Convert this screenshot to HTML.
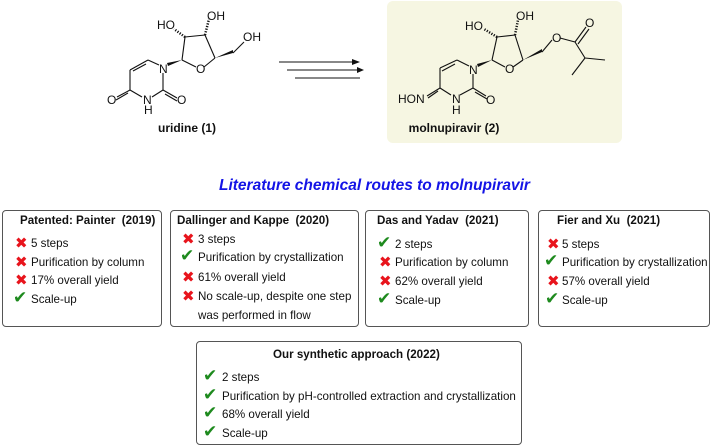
<!DOCTYPE html>
<html><head><meta charset="utf-8"><style>
body{margin:0;width:714px;height:447px;background:#fff;position:relative;overflow:hidden;font-family:"Liberation Sans",sans-serif;color:#111}
.a{position:absolute;white-space:nowrap}
.box{position:absolute;border:1.3px solid #555;border-radius:4px;box-sizing:border-box}
.t{font-weight:bold;font-size:11.6px}
.r{font-size:11.6px}
.x{color:#e8141c;font-family:"DejaVu Sans",sans-serif;font-size:15px;font-weight:bold}
.c{color:#1e8a1e;font-family:"DejaVu Sans",sans-serif;font-size:17px;font-weight:bold}
</style></head><body>
<div class="a" style="left:387px;top:1px;width:235px;height:142px;background:#f6f6e2;border-radius:6px"></div>
<svg class="a" style="left:0;top:0" width="714" height="170" font-family="Liberation Sans" font-size="12" fill="#111">
<g stroke="#111" stroke-width="1.1" fill="none">
<line x1="159" y1="65" x2="148" y2="60"/><line x1="148" y1="60" x2="130" y2="70"/><line x1="146" y1="64" x2="133" y2="71"/>
<line x1="130" y1="70" x2="130" y2="90"/><line x1="130" y1="90" x2="142" y2="97"/><line x1="152" y1="97" x2="163" y2="90"/>
<line x1="163" y1="90" x2="163" y2="73"/><line x1="163" y1="90" x2="177" y2="98"/><line x1="165" y1="94" x2="177" y2="101"/>
<line x1="130" y1="90" x2="117" y2="97"/><line x1="128" y1="93" x2="116" y2="100"/>
<line x1="182" y1="60" x2="196" y2="67"/><line x1="204" y1="67" x2="215" y2="58"/><line x1="215" y1="58" x2="205" y2="35"/><line x1="205" y1="35" x2="185" y2="37"/><line x1="185" y1="37" x2="182" y2="60"/>
<line x1="233" y1="53" x2="244" y2="42"/>
<line x1="205" y1="35" x2="209" y2="19" stroke-dasharray="1.2 1.5" stroke-width="2.5"/>
<line x1="185" y1="37" x2="174" y2="29" stroke-dasharray="1.2 1.5" stroke-width="2.5"/>
<line x1="279" y1="62" x2="352" y2="62"/><line x1="287" y1="70" x2="357" y2="70"/><line x1="295" y1="78" x2="360" y2="78"/>
<line x1="469" y1="66" x2="457" y2="60"/><line x1="457" y1="60" x2="440" y2="68"/><line x1="455" y1="64" x2="442" y2="71"/>
<line x1="440" y1="68" x2="440" y2="88"/><line x1="440" y1="88" x2="451" y2="95"/><line x1="460" y1="95" x2="473" y2="88"/>
<line x1="473" y1="88" x2="473" y2="74"/><line x1="473" y1="88" x2="486" y2="96"/><line x1="475" y1="92" x2="487" y2="99"/>
<line x1="440" y1="88" x2="427" y2="96"/><line x1="438" y1="91" x2="428" y2="98"/>
<line x1="492" y1="60" x2="505" y2="67"/><line x1="513" y1="67" x2="523" y2="60"/><line x1="523" y1="60" x2="515" y2="35"/><line x1="515" y1="35" x2="497" y2="37"/><line x1="497" y1="37" x2="492" y2="60"/>
<line x1="542" y1="52" x2="552" y2="40"/><line x1="560" y1="38" x2="575" y2="42"/>
<line x1="575" y1="42" x2="586" y2="27"/><line x1="578" y1="44" x2="589" y2="29"/>
<line x1="575" y1="42" x2="585" y2="58"/><line x1="585" y1="58" x2="605" y2="60"/><line x1="585" y1="58" x2="572" y2="75"/>
<line x1="515" y1="35" x2="518" y2="20" stroke-dasharray="1.2 1.5" stroke-width="2.5"/>
<line x1="497" y1="37" x2="484" y2="29" stroke-dasharray="1.2 1.5" stroke-width="2.5"/>
</g>
<g fill="#111">
<polygon points="182,60 168,66 167,63"/><polygon points="215,58 233,53 233,50"/>
<polygon points="492,60 478,67 477,64"/><polygon points="523,60 542,52 542,49"/>
<polygon points="352,59 360,62 352,65"/><polygon points="357,67 364,70 357,73"/>
</g>
<text x="159" y="73">N</text><text x="143" y="104">N</text><text x="144" y="114">H</text>
<text x="107" y="104">O</text><text x="177" y="104">O</text><text x="196" y="73">O</text>
<text x="157" y="29">HO</text><text x="207" y="20">OH</text><text x="243" y="41">OH</text>
<text x="469" y="74">N</text><text x="452" y="103">N</text><text x="452" y="114">H</text>
<text x="398" y="103">HON</text><text x="486" y="104">O</text><text x="505" y="73">O</text>
<text x="465" y="30">HO</text><text x="516" y="20">OH</text><text x="552" y="42">O</text><text x="585" y="27">O</text>
<text x="187" y="132" text-anchor="middle" font-weight="bold">uridine (1)</text>
<text x="454" y="132" text-anchor="middle" font-weight="bold">molnupiravir (2)</text>
</svg>
<div class="a" style="left:219px;top:177px;font-size:15.5px;font-weight:bold;font-style:italic;color:#1414e6">Literature chemical routes to molnupiravir</div>

<div class="box" style="left:2px;top:210px;width:160px;height:117px"></div>
<div class="box" style="left:170px;top:210px;width:189px;height:117px"></div>
<div class="box" style="left:365px;top:210px;width:164px;height:117px"></div>
<div class="box" style="left:538px;top:210px;width:172px;height:117px"></div>
<div class="box" style="left:196px;top:341px;width:326px;height:104px"></div>

<div class="a t" style="left:20px;top:214px">Patented: Painter&nbsp; (2019)</div>
<div class="a x" style="left:15px;top:234px">✖</div><div class="a r" style="left:31px;top:237px">5 steps</div>
<div class="a x" style="left:15px;top:253px">✖</div><div class="a r" style="left:31px;top:256px">Purification by column</div>
<div class="a x" style="left:15px;top:271px">✖</div><div class="a r" style="left:31px;top:274px">17% overall yield</div>
<div class="a c" style="left:13px;top:288px">✔</div><div class="a r" style="left:31px;top:293px">Scale-up</div>

<div class="a t" style="left:177px;top:214px">Dallinger and Kappe&nbsp; (2020)</div>
<div class="a x" style="left:182px;top:230px">✖</div><div class="a r" style="left:198px;top:233px">3 steps</div>
<div class="a c" style="left:180px;top:246px">✔</div><div class="a r" style="left:198px;top:251px">Purification by crystallization</div>
<div class="a x" style="left:182px;top:268px">✖</div><div class="a r" style="left:198px;top:271px">61% overall yield</div>
<div class="a x" style="left:182px;top:287px">✖</div><div class="a r" style="left:198px;top:290px">No scale-up, despite one step</div>
<div class="a r" style="left:198px;top:309px">was performed in flow</div>

<div class="a t" style="left:377px;top:214px">Das and Yadav&nbsp; (2021)</div>
<div class="a c" style="left:377px;top:233px">✔</div><div class="a r" style="left:395px;top:238px">2 steps</div>
<div class="a x" style="left:379px;top:253px">✖</div><div class="a r" style="left:395px;top:256px">Purification by column</div>
<div class="a x" style="left:379px;top:272px">✖</div><div class="a r" style="left:395px;top:275px">62% overall yield</div>
<div class="a c" style="left:377px;top:289px">✔</div><div class="a r" style="left:395px;top:294px">Scale-up</div>

<div class="a t" style="left:557px;top:214px">Fier and Xu&nbsp; (2021)</div>
<div class="a x" style="left:547px;top:235px">✖</div><div class="a r" style="left:562px;top:238px">5 steps</div>
<div class="a c" style="left:544px;top:251px">✔</div><div class="a r" style="left:562px;top:256px">Purification by crystallization</div>
<div class="a x" style="left:547px;top:272px">✖</div><div class="a r" style="left:562px;top:275px">57% overall yield</div>
<div class="a c" style="left:545px;top:289px">✔</div><div class="a r" style="left:562px;top:294px">Scale-up</div>

<div class="a t" style="left:273px;top:348px">Our synthetic approach (2022)</div>
<div class="a c" style="left:203px;top:366px">✔</div><div class="a r" style="left:222px;top:371px">2 steps</div>
<div class="a c" style="left:203px;top:385px">✔</div><div class="a r" style="left:222px;top:390px">Purification by pH-controlled extraction and crystallization</div>
<div class="a c" style="left:203px;top:403px">✔</div><div class="a r" style="left:222px;top:408px">68% overall yield</div>
<div class="a c" style="left:203px;top:422px">✔</div><div class="a r" style="left:222px;top:427px">Scale-up</div>
</body></html>
